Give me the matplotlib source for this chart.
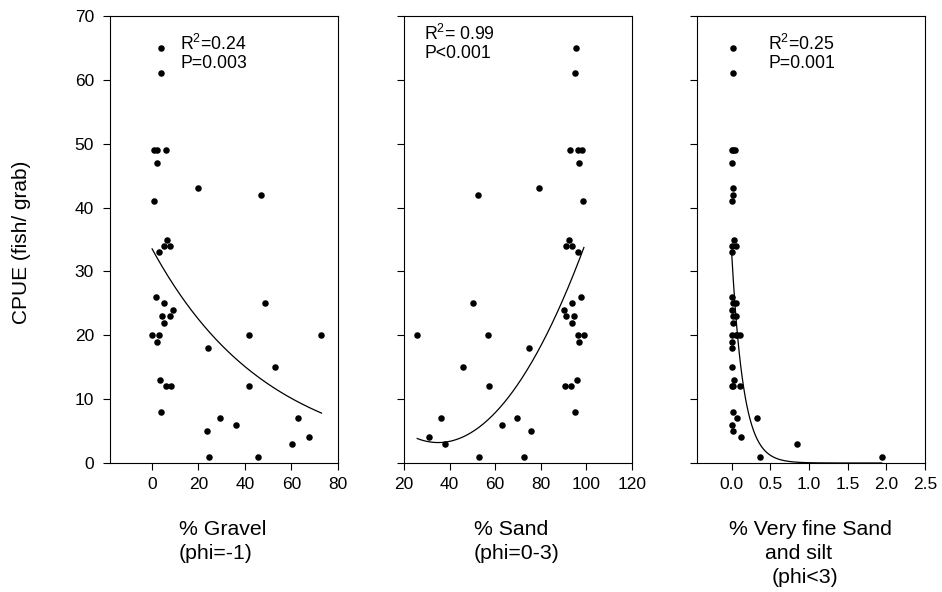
import numpy as np
import matplotlib.pyplot as plt

plt.rcParams['font.family'] = ['Liberation Sans', 'DejaVu Sans']
plt.rcParams['mathtext.fontset'] = 'custom'
plt.rcParams['mathtext.rm'] = 'Liberation Sans'
plt.rcParams['mathtext.default'] = 'rm'

# CPUE per grab sample (same samples in every panel)
cpue = [65, 61, 49, 49, 49, 47, 43, 42, 41, 35, 34, 34, 33, 26, 25, 25, 24, 23, 23, 22,
        20, 20, 20, 20, 19, 18, 15, 13, 12, 12, 12, 8, 7, 7, 6, 5, 4, 3, 1, 1]

gravel = [4, 4, 0.7, 2.1, 6.1, 2.1, 20, 46.7, 0.7, 6.7, 5.4, 7.9, 3.0, 1.7, 5.4, 48.7, 9.0, 4.3, 8.0, 5.4,
          0.1, 3.0, 41.9, 72.9, 2.4, 24.3, 53.1, 3.3, 6.1, 8.1, 41.6, 4.0, 29.3, 62.9, 36.1, 23.7, 67.6, 60.3, 24.6, 45.7]

sand = [95.3, 95.1, 92.8, 96.2, 98.2, 96.9, 79.2, 52.3, 98.5, 92.5, 91.2, 93.7, 96.5, 97.5, 50.1, 93.7, 90.0, 91.2, 94.7, 93.7,
        25.8, 57.0, 96.2, 98.9, 96.6, 74.7, 45.7, 95.9, 57.1, 90.8, 93.1, 95.1, 36.2, 69.4, 62.8, 75.6, 31.1, 37.8, 52.9, 72.5]

fines = [0.01, 0.02, 0.0, 0.02, 0.04, 0.0, 0.01, 0.02, 0.0, 0.03, 0.0, 0.05, 0.0, 0.0, 0.02, 0.06, 0.0, 0.01, 0.055, 0.02,
         0.0, 0.05, 0.07, 0.11, 0.0, 0.0, 0.0, 0.03, 0.0, 0.02, 0.10, 0.01, 0.07, 0.32, 0.0, 0.01, 0.12, 0.85, 0.37, 1.94]

# fitted curve parameters
fit_gravel = (33.6, 0.020)          # a*exp(-b*x)
fit_sand = (3.2, 35.0, 0.00748)     # y0 + c*(x-x0)^2
fit_fines = (32.6, 6.6)             # a*exp(-b*x)

stats = [("R$^2$=0.24", "P=0.003"), ("R$^2$= 0.99", "P<0.001"), ("R$^2$=0.25", "P=0.001")]

W, H = 942, 592
fig = plt.figure(figsize=(W / 100, H / 100), dpi=100)

lefts = [110, 404, 697]
axes = [fig.add_axes([l / W, 1 - 463 / H, 228 / W, 447 / H]) for l in lefts]

xdata = [gravel, sand, fines]
xlims = [(-18, 80), (20, 120), (-0.45, 2.5)]
xticks = [[0, 20, 40, 60, 80], [20, 40, 60, 80, 100, 120], [0.0, 0.5, 1.0, 1.5, 2.0, 2.5]]
xticklabels = [["0", "20", "40", "60", "80"], ["20", "40", "60", "80", "100", "120"],
               ["0.0", "0.5", "1.0", "1.5", "2.0", "2.5"]]

for i, ax in enumerate(axes):
    ax.scatter(xdata[i], cpue, s=22, color='black', zorder=3, linewidths=0)
    ax.set_xlim(*xlims[i])
    ax.set_ylim(0, 70)
    ax.set_xticks(xticks[i])
    ax.set_xticklabels(xticklabels[i])
    ax.set_yticks(range(0, 71, 10))
    ax.tick_params(direction='out', length=5, width=0.8, labelsize=12.5)
    ax.tick_params(axis='y', pad=6.5)
    ax.tick_params(axis='x', pad=5)
    for sp in ax.spines.values():
        sp.set_linewidth(0.8)
    if i > 0:
        ax.set_yticklabels([])

# fitted curves
xg = np.linspace(min(gravel), max(gravel), 200)
axes[0].plot(xg, fit_gravel[0] * np.exp(-fit_gravel[1] * xg), color='black', lw=0.9)
xs = np.linspace(min(sand), max(sand), 200)
axes[1].plot(xs, fit_sand[0] + fit_sand[2] * (xs - fit_sand[1]) ** 2, color='black', lw=0.9)
xf = np.linspace(0, max(fines), 400)
axes[2].plot(xf, fit_fines[0] * np.exp(-fit_fines[1] * xf), color='black', lw=0.9)

# stats text (pixel positions: left x, baseline y of first line)
stat_pos = [(180, 50), (424, 40), (768, 50)]
for (r2, p), (px, py) in zip(stats, stat_pos):
    fig.text(px / W, 1 - py / H, r2, fontsize=12.7, va='baseline', ha='left')
    fig.text(px / W, 1 - (py + 18) / H, p, fontsize=12.7, va='baseline', ha='left')

# x labels, line by line
xlabel_lines = [
    [("% Gravel", 179, 535), ("(phi=-1)", 179, 559)],
    [("% Sand", 474, 535), ("(phi=0-3)", 474, 559)],
    [("% Very fine Sand", 729, 535), ("and silt", 765, 559), ("(phi<3)", 772, 583)],
]
for lines in xlabel_lines:
    for txt, px, py in lines:
        fig.text(px / W, 1 - py / H, txt, fontsize=15.3, va='baseline', ha='left')

fig.text(22 / W, 1 - 242 / H, "CPUE (fish/ grab)", fontsize=15, rotation=90,
         ha='center', va='center')

fig.savefig("out.png", dpi=100)
